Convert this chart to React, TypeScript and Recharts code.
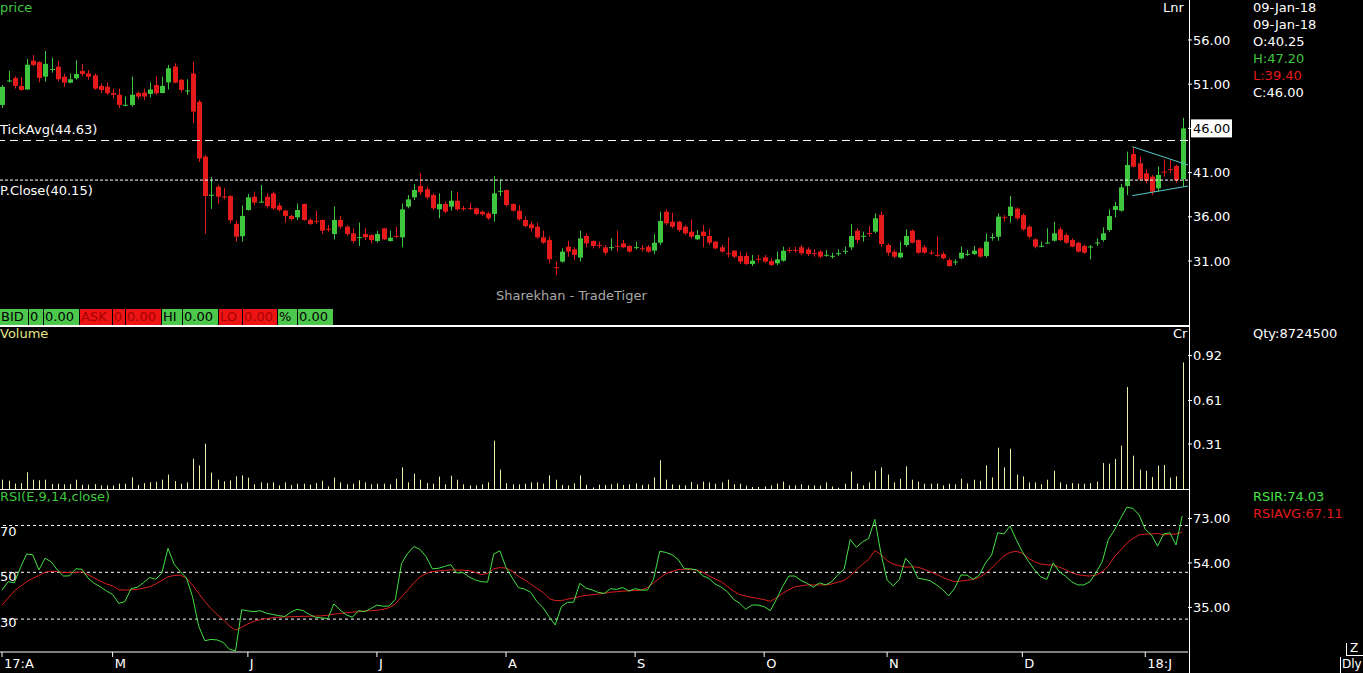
import React from "react";
import { ComposedChart, Bar, Line, XAxis, YAxis, ReferenceLine } from "recharts";

const FONT = "'DejaVu Sans', Verdana, sans-serif";
const UP = "#3fc63f";
const DOWN = "#e51a1a";
const RSI_GREEN = "#46e046";
const RSI_RED = "#d82020";
const VOL = "#eeeea4";

// daily candles, 03-Apr-17 .. 09-Jan-18
const opens = [
  48.65, 51.38, 51.7, 50.8, 50.4, 53.66, 53.5, 51.85, 52.68, 52.98,
  51.85, 51.17, 51.67, 52.5, 52.2, 52.0, 50.8, 50.72, 50.0, 49.8,
  48.63, 48.65, 50.0, 50.05, 49.9, 50.9, 50.0, 51.2, 53.0, 51.5,
  50.25, 52.2, 49.0, 42.8, 38.45, 39.4, 38.29, 38.35, 35.2, 33.8,
  36.77, 38.27, 37.68, 38.27, 38.65, 37.27, 36.7, 36.1, 35.94, 37.45,
  35.64, 35.54, 35.64, 34.64, 34.05, 35.64, 34.88, 34.13, 33.66, 34.05,
  33.94, 33.26, 34.7, 33.26, 33.85, 33.68, 37.15, 38.2, 39.48, 39.11,
  38.47, 36.84, 37.45, 37.15, 37.82, 36.98, 36.98, 36.96, 36.58, 36.39,
  36.32, 38.9, 39.03, 37.45, 36.69, 35.64, 35.15, 34.88, 33.68, 33.37,
  30.3, 30.93, 32.62, 32.32, 31.38, 33.83, 33.26, 32.83, 32.55, 32.53,
  32.72, 32.99, 32.7, 32.53, 32.45, 32.62, 32.17, 33.07, 36.58, 35.45,
  35.45, 34.88, 34.32, 33.45, 34.32, 33.83, 33.19, 32.55, 31.89, 32.17,
  31.57, 31.57, 30.66, 31.25, 31.42, 31.0, 30.74, 31.04, 32.26, 32.26,
  32.55, 32.32, 31.89, 32.06, 31.66, 31.55, 31.85, 32.11, 32.55, 34.43,
  33.81, 34.15, 34.32, 36.2, 32.81, 32.05, 31.41, 32.81, 34.43, 33.37,
  32.55, 31.96, 31.7, 31.79, 31.11, 30.9, 31.3, 31.77, 31.79, 32.43,
  31.56, 33.66, 33.75, 35.96, 36.09, 36.92, 36.2, 34.88, 33.45, 32.68,
  33.05, 33.3, 34.58, 33.94, 33.37, 33.07, 32.7, 32.6, 33.05, 33.37,
  34.51, 36.77, 36.69, 39.48, 43.1, 42.05, 40.92, 40.54, 39.22, 41.12,
  41.39, 41.75, 40.25,
];
const highs = [
  50.9, 52.5, 51.9, 51.8, 53.85, 54.3, 53.6, 54.75, 54.0, 53.6,
  52.2, 52.2, 53.7, 53.3, 52.6, 52.2, 51.1, 51.2, 50.5, 50.5,
  49.6, 51.85, 50.15, 50.5, 51.2, 51.9, 51.85, 53.17, 53.36, 51.6,
  51.55, 53.55, 49.2, 43.0, 40.5, 39.6, 39.25, 38.45, 35.6, 37.3,
  38.6, 38.85, 39.6, 38.65, 38.85, 37.56, 36.8, 36.2, 37.5, 37.5,
  35.83, 36.69, 35.7, 35.07, 37.15, 36.09, 35.07, 34.7, 35.34, 34.7,
  34.0, 34.43, 34.75, 34.43, 34.88, 37.52, 38.47, 39.71, 40.92, 39.41,
  38.65, 38.65, 37.71, 38.92, 38.84, 37.22, 37.6, 37.05, 36.69, 36.58,
  40.62, 40.24, 39.1, 37.5, 37.33, 36.02, 35.45, 35.34, 34.43, 33.75,
  30.93, 32.43, 33.3, 32.55, 34.43, 34.13, 33.3, 33.19, 32.81, 33.56,
  34.43, 33.37, 32.8, 33.19, 32.81, 32.81, 34.05, 36.58, 36.84, 36.47,
  35.5, 35.07, 35.71, 34.51, 35.07, 34.58, 33.25, 32.81, 33.68, 32.2,
  32.06, 31.94, 31.68, 31.68, 31.68, 31.3, 32.06, 32.62, 32.55, 32.62,
  32.81, 32.55, 32.32, 32.24, 32.24, 31.94, 32.32, 32.62, 35.19, 34.7,
  34.32, 34.96, 36.39, 36.58, 33.0, 32.32, 33.19, 34.58, 34.58, 33.45,
  32.81, 32.24, 33.75, 32.06, 31.3, 31.19, 32.62, 32.24, 32.7, 32.55,
  34.13, 34.13, 36.39, 36.2, 38.35, 37.07, 36.39, 35.07, 33.56, 33.19,
  34.7, 35.45, 34.81, 34.13, 33.56, 33.19, 32.85, 32.81, 33.56, 34.81,
  36.84, 37.71, 39.71, 43.37, 43.86, 42.8, 41.37, 40.73, 41.67, 42.5,
  42.43, 41.9, 47.2,
];
const lows = [
  48.3, 51.2, 50.5, 50.25, 50.35, 53.0, 51.2, 51.3, 52.3, 51.3,
  50.7, 51.1, 51.5, 51.9, 51.5, 50.35, 50.0, 49.8, 49.4, 48.3,
  48.5, 48.45, 49.3, 49.2, 49.5, 49.8, 49.97, 50.4, 51.1, 50.05,
  49.8, 46.6, 42.2, 34.1, 36.9, 37.5, 37.97, 35.26, 33.2, 33.2,
  36.7, 37.3, 37.6, 36.95, 36.77, 36.6, 35.33, 35.56, 35.64, 35.56,
  35.07, 35.19, 34.05, 34.32, 33.45, 34.62, 33.83, 33.0, 32.7, 33.37,
  33.0, 33.1, 33.37, 33.19, 33.56, 32.55, 36.96, 37.9, 38.47, 37.97,
  36.77, 35.83, 36.39, 36.69, 36.69, 36.69, 36.77, 36.2, 36.13, 35.64,
  35.45, 38.35, 37.15, 36.58, 35.56, 34.81, 34.32, 33.49, 32.92, 30.74,
  29.42, 30.81, 31.49, 31.11, 30.93, 32.55, 32.43, 32.43, 31.68, 32.17,
  32.06, 32.43, 31.94, 32.32, 32.06, 31.94, 31.79, 32.81, 35.07, 34.7,
  34.32, 33.94, 33.56, 33.37, 32.55, 32.81, 32.32, 31.94, 31.42, 31.3,
  30.66, 30.55, 30.43, 30.81, 30.81, 30.43, 30.55, 30.93, 31.94, 31.94,
  31.68, 31.57, 31.49, 31.3, 31.49, 31.3, 31.57, 31.79, 32.24, 33.0,
  33.19, 33.75, 34.13, 32.62, 31.6, 31.3, 31.3, 32.62, 33.0, 31.79,
  31.79, 31.68, 31.49, 31.19, 30.36, 30.55, 31.19, 31.57, 31.68, 31.38,
  31.41, 33.3, 33.3, 35.45, 35.34, 35.64, 34.43, 33.56, 32.43, 32.55,
  32.92, 33.19, 33.26, 32.92, 32.55, 31.94, 31.79, 31.19, 32.7, 33.19,
  34.32, 35.94, 36.58, 38.47, 41.6, 40.09, 39.79, 38.47, 38.84, 40.54,
  40.92, 39.86, 39.4,
];
const closes = [
  50.7, 51.42, 50.8, 50.35, 53.2, 53.17, 51.7, 53.3, 52.72, 51.55,
  51.17, 51.55, 52.15, 52.15, 51.85, 50.5, 50.35, 49.97, 49.8, 48.65,
  48.67, 49.8, 49.6, 49.6, 50.4, 49.97, 50.8, 52.8, 51.17, 50.35,
  50.29, 47.9, 42.6, 38.35, 38.49, 38.27, 38.25, 35.6, 33.75, 36.1,
  38.2, 37.6, 37.72, 37.2, 36.95, 36.77, 36.1, 35.75, 36.77, 35.64,
  35.19, 35.5, 34.43, 34.6, 35.64, 34.88, 34.05, 33.26, 33.7, 33.68,
  33.37, 34.05, 33.45, 33.64, 33.81, 36.84, 37.97, 39.03, 38.77, 38.2,
  36.96, 37.45, 36.58, 37.82, 36.84, 36.94, 36.94, 36.32, 36.28, 35.83,
  38.65, 38.94, 37.33, 36.69, 35.71, 34.96, 34.7, 33.68, 33.07, 31.19,
  30.26, 32.06, 32.06, 31.68, 33.56, 32.99, 32.7, 32.79, 31.94, 32.57,
  32.68, 32.55, 32.06, 32.57, 32.41, 32.06, 33.07, 35.52, 35.26, 34.88,
  34.51, 34.13, 33.75, 33.94, 33.83, 33.07, 32.43, 32.06, 31.85, 31.49,
  30.93, 30.66, 31.04, 31.21, 30.93, 30.55, 31.19, 32.17, 32.22, 32.22,
  31.87, 31.79, 31.85, 31.49, 31.7, 31.59, 31.89, 32.15, 33.83, 33.38,
  33.85, 34.11, 35.83, 32.92, 31.94, 31.49, 31.94, 33.83, 33.07, 31.94,
  31.94, 31.92, 31.66, 31.3, 30.43, 30.94, 31.94, 31.81, 32.17, 31.49,
  33.19, 33.7, 36.02, 35.92, 37.15, 35.83, 34.58, 33.75, 32.62, 32.72,
  33.09, 34.13, 33.37, 33.07, 32.62, 32.06, 31.94, 32.64, 33.09, 34.13,
  36.09, 37.22, 39.33, 41.86, 41.67, 40.24, 40.09, 38.84, 40.73, 41.08,
  41.35, 40.15, 46.0,
];

// volume in crore shares
const volumes = [
  0.064, 0.057, 0.037, 0.041, 0.115, 0.064, 0.06, 0.064, 0.034, 0.037,
  0.032, 0.034, 0.064, 0.03, 0.03, 0.034, 0.025, 0.025, 0.025, 0.037,
  0.037, 0.08, 0.028, 0.041, 0.046, 0.05, 0.064, 0.099, 0.055, 0.037,
  0.046, 0.209, 0.163, 0.313, 0.113, 0.064, 0.053, 0.06, 0.087, 0.094,
  0.078, 0.032, 0.046, 0.041, 0.046, 0.025, 0.046, 0.028, 0.037, 0.037,
  0.03, 0.041, 0.057, 0.018, 0.078, 0.046, 0.032, 0.037, 0.06, 0.046,
  0.032, 0.037, 0.037, 0.032, 0.071, 0.149, 0.046, 0.106, 0.064, 0.041,
  0.037, 0.085, 0.032, 0.092, 0.064, 0.032, 0.025, 0.025, 0.032, 0.046,
  0.333, 0.133, 0.041, 0.032, 0.032, 0.037, 0.046, 0.046, 0.037, 0.094,
  0.064, 0.028, 0.025, 0.039, 0.094, 0.03, 0.011, 0.03, 0.028, 0.032,
  0.039, 0.028, 0.032, 0.039, 0.028, 0.032, 0.08, 0.198, 0.064, 0.032,
  0.028, 0.025, 0.048, 0.032, 0.051, 0.046, 0.037, 0.046, 0.064, 0.032,
  0.037, 0.023, 0.014, 0.014, 0.018, 0.025, 0.037, 0.051, 0.025, 0.025,
  0.032, 0.025, 0.025, 0.023, 0.046, 0.018, 0.009, 0.037, 0.12, 0.037,
  0.025, 0.046, 0.126, 0.149, 0.099, 0.046, 0.071, 0.156, 0.064, 0.051,
  0.037, 0.037, 0.037, 0.025, 0.037, 0.032, 0.071, 0.039, 0.064, 0.057,
  0.163, 0.08, 0.285, 0.149, 0.278, 0.099, 0.087, 0.046, 0.046, 0.032,
  0.064, 0.126, 0.046, 0.032, 0.041, 0.037, 0.037, 0.041, 0.051, 0.179,
  0.175, 0.207, 0.299, 0.703, 0.23, 0.133, 0.126, 0.083, 0.161, 0.166,
  0.078, 0.087, 0.8725,
];

const rsi = [
  42.4, 46, 45.5, 52, 57.8, 57.5, 51, 56, 54.5, 51,
  48.4, 48.5, 51.5, 51.3, 47.5, 45.3, 43.8, 42, 40.5, 36.7,
  37.5, 43, 43.6, 45.5, 47.8, 47, 49.6, 60.2, 53.5, 50.3,
  47.6, 39.6, 27, 20.8, 21.3, 21.1, 20, 17.1, 16.5, 34,
  33.5, 33.2, 33.6, 32.5, 32, 31.5, 31.1, 33, 34.2, 33.6,
  32, 30.8, 30.5, 30.2, 36.5, 33.9, 31.8, 30.8, 33.6, 33.2,
  34.5, 36, 35.5, 35.6, 38.5, 53.8, 58.1, 61, 59.8, 56.7,
  51.5, 51.7, 52.5, 53.3, 49.7, 49.9, 48, 46.7, 46, 45.8,
  57.8, 59.2, 52, 47.7, 43.5, 42.8, 41.5, 37.6, 35, 31,
  27.5, 35.3, 37.2, 37.2, 45.3, 43.2, 42.5, 41.4, 41, 43,
  42.7, 43.5, 42, 43, 42.4, 42.4, 47, 59, 58.5, 57.5,
  55.5, 51.5, 51.5, 51, 48.5, 47.4, 45, 43.7, 41.7, 38.5,
  36.8, 34.2, 36, 36, 35.3, 33.6, 38.5, 44, 48.4, 48.4,
  46.5, 45.3, 43.6, 45.5, 44.6, 46, 49, 51.3, 64, 60.7,
  63, 64.5, 72.6, 58, 46.7, 44.2, 47, 56, 53, 47.5,
  47, 46.4, 44.7, 42.7, 39.9, 43.2, 48.8, 48.8, 47, 48.8,
  54, 57.4, 66.9, 66.4, 69.8, 64, 58.8, 54.6, 51, 48,
  47, 54, 50.3, 48.4, 46, 44.6, 44.6, 46, 49.9, 54.6,
  64.1, 68.1, 73.1, 77.8, 77.3, 74.5, 68.4, 66, 61.2, 66.4,
  66.9, 61.7, 74.03,
];
const rsiAvg = [
  36, 39, 42, 44, 46, 47.4, 48.6, 50, 50.5, 50.3,
  49.9, 49.9, 49.9, 50.2, 49, 47.6, 46.2, 45, 44.2, 42.6,
  42.4, 42.5, 42.7, 43.2, 43.8, 45, 46.5, 48.1, 48.6, 48.8,
  47.5, 44.5, 41, 37.5, 34.5, 32, 29.8, 27, 25.3, 26.5,
  28, 29, 29.8, 30.2, 30.6, 30.8, 30.9, 31, 31.1, 31.2,
  31.2, 31.3, 31.4, 31.7, 32.1, 32.4, 32.7, 33, 33.2, 33.4,
  33.6, 33.8, 34.2, 34.9, 36.5, 39.5, 42.4, 45.5, 48, 49.5,
  50.3, 50.6, 50.8, 51, 51, 50.9, 50.7, 50, 49, 49.5,
  51.5, 52, 51.8, 50.5, 48.3, 46.8, 45, 43.2, 41.5, 38.8,
  37.9, 37.9, 38.5, 39, 39.7, 40.1, 40.4, 40.7, 41, 41.5,
  41.7, 41.9, 42.1, 42.2, 42.4, 43.5, 45.5, 47.5, 49.5, 50.3,
  51.2, 51.3, 51.2, 51, 50, 48.5, 47.2, 46, 44, 42,
  40.5, 39.8, 39.3, 38.8, 38.3, 37.6, 39, 41, 42.5, 43.8,
  44.2, 44.6, 44.6, 44.6, 44.6, 45, 45.8, 46.5, 48.5, 51,
  53.5, 55.5, 59.3, 57.5, 55, 53.5, 52.8, 52.2, 52.3, 52.2,
  51.3, 50.3, 49.2, 47.9, 46.8, 46, 46.3, 46.6, 47, 47.8,
  49.5, 51.8, 54.5, 57, 58.5, 59, 58.1, 56, 54.5, 53.5,
  53.2, 53, 52.2, 51.2, 49.8, 49, 48.6, 48.4, 48.8, 50.2,
  52.8, 56.7, 59.5, 62.5, 64.5, 66, 66.3, 66.4, 66.6, 66,
  66.2, 66.4, 67.11,
];

const monthTicks = [0, 18, 40, 61, 82, 103, 124, 144, 166, 186];
const monthLabels = ["17:A", "M", "J", "J", "A", "S", "O", "N", "D", "18:J"];
const priceTicks = [31, 36, 41, 46, 51, 56];
const volumeTicks = [0.31, 0.61, 0.92];
const rsiTicks = [35, 54, 73];
const rsiLevels = [30, 50, 70];
const tickAvg = 44.63;
const prevClose = 40.15;
const trendUpper = [{ x: 183.9, y: 43.93 }, { x: 192.95, y: 41.86 }];
const trendLower = [{ x: 183.9, y: 38.39 }, { x: 192.95, y: 39.48 }];

const rows = opens.map((open, i) => ({
  i,
  open,
  high: highs[i],
  low: lows[i],
  close: closes[i],
  range: [lows[i], highs[i]],
  vol: volumes[i],
  rsi: rsi[i],
  avg: rsiAvg[i],
}));
const lastClose = closes[closes.length - 1];

const CHART_W = 1363;
const PLOT_W = 1188;
const AXIS_W = CHART_W - PLOT_W;
const xDomain: [number, number] = [-0.325, 192.95];
const MARGIN = { top: 0, right: 0, bottom: 0, left: 0 };

const Candle = (props: any) => {
  const { x, y, width, height, payload } = props;
  if (!payload) return null;
  const { open, close, high, low } = payload;
  const top = Math.min(y, y + height);
  const h = Math.abs(height);
  const k = high > low ? h / (high - low) : 0;
  const yO = top + (high - open) * k;
  const yC = top + (high - close) * k;
  const color = close >= open ? UP : DOWN;
  const cx = Math.round(x + width / 2) + 0.5;
  const bTop = Math.min(yO, yC);
  const bH = Math.max(1, Math.abs(yO - yC));
  return (
    <g>
      <line x1={cx} x2={cx} y1={top} y2={top + h} stroke={color} strokeWidth={1} />
      <rect x={cx - 2.5} y={bTop} width={5} height={bH} fill={color} />
    </g>
  );
};

const VolStick = (props: any) => {
  const { x, y, width, height } = props;
  if (!height) return null;
  return <rect x={Math.round(x + width / 2)} y={y} width={1} height={height} fill={VOL} />;
};

const PriceTick = (props: any) => {
  const { x, y, payload } = props;
  const v = payload.value;
  if (v === lastClose) {
    return (
      <g>
        <rect x={x - 2} y={y - 9} width={41} height={18} fill="#ffffff" />
        <text x={x} y={y} dy="0.36em" fill="#000" fontSize={13} fontFamily={FONT}>
          {v.toFixed(2)}
        </text>
      </g>
    );
  }
  return (
    <text x={x} y={y} dy="0.36em" fill="#fff" fontSize={13} fontFamily={FONT}>
      {v.toFixed(2)}
    </text>
  );
};

const PlainTick = (props: any) => (
  <text x={props.x} y={props.y} dy="0.36em" fill="#fff" fontSize={13} fontFamily={FONT}>
    {Number(props.payload.value).toFixed(2)}
  </text>
);

const MonthTick = (props: any) => (
  <text x={props.x + 2} y={props.y} dy={11} fill="#fff" fontSize={13} fontFamily={FONT}>
    {monthLabels[monthTicks.indexOf(props.payload.value)]}
  </text>
);

const T = (s: React.CSSProperties): React.CSSProperties => ({
  position: "absolute",
  fontFamily: FONT,
  fontSize: 13,
  lineHeight: "16px",
  whiteSpace: "nowrap",
  color: "#fff",
  ...s,
});

const G_BG = "#4cc84c";
const R_BG = "#ec1414";
const strip = [
  { x: 0, w: 28, t: "BID", bg: G_BG, fg: "#000" },
  { x: 29, w: 14, t: "0", bg: G_BG, fg: "#000" },
  { x: 44, w: 35, t: "0.00", bg: G_BG, fg: "#000" },
  { x: 80, w: 32, t: "ASK", bg: R_BG, fg: "#a80000" },
  { x: 113, w: 12, t: "0", bg: R_BG, fg: "#a80000" },
  { x: 126, w: 35, t: "0.00", bg: R_BG, fg: "#a80000" },
  { x: 162, w: 20, t: "HI", bg: G_BG, fg: "#000" },
  { x: 183, w: 35, t: "0.00", bg: G_BG, fg: "#000" },
  { x: 219, w: 23, t: "LO", bg: R_BG, fg: "#a80000" },
  { x: 243, w: 34, t: "0.00", bg: R_BG, fg: "#a80000" },
  { x: 278, w: 19, t: "%", bg: G_BG, fg: "#000" },
  { x: 298, w: 35, t: "0.00", bg: G_BG, fg: "#000" },
];

export default function App() {
  return (
    <div style={{ position: "absolute", left: 0, top: 0, width: 1363, height: 673, background: "#000", overflow: "hidden" }}>
      {/* price panel */}
      <div style={{ position: "absolute", left: 0, top: 0 }}>
        <ComposedChart width={CHART_W} height={326} data={rows} margin={MARGIN}>
          <XAxis hide type="number" dataKey="i" domain={xDomain} allowDataOverflow />
          <YAxis
            orientation="right"
            width={AXIS_W}
            type="number"
            domain={[23.65, 60.52]}
            allowDataOverflow
            ticks={priceTicks}
            interval={0}
            axisLine={false}
            tickLine={{ stroke: "#fff" }}
            tickSize={4}
            tickMargin={1}
            tick={<PriceTick />}
          />
          <ReferenceLine y={tickAvg} stroke="#fff" strokeDasharray="8 5" />
          <ReferenceLine y={prevClose} stroke="#fff" strokeDasharray="3 2" />
          <Bar dataKey="range" barSize={5} shape={<Candle />} isAnimationActive={false} />
          <ReferenceLine segment={trendUpper} stroke="#55cccc" ifOverflow="visible" />
          <ReferenceLine segment={trendLower} stroke="#55cccc" ifOverflow="visible" />
        </ComposedChart>
      </div>

      {/* volume panel */}
      <div style={{ position: "absolute", left: 0, top: 327 }}>
        <ComposedChart width={CHART_W} height={162} data={rows} margin={MARGIN}>
          <XAxis hide type="number" dataKey="i" domain={xDomain} allowDataOverflow />
          <YAxis
            orientation="right"
            width={AXIS_W}
            type="number"
            domain={[0, 1.117]}
            allowDataOverflow
            ticks={volumeTicks}
            interval={0}
            axisLine={false}
            tickLine={{ stroke: "#fff" }}
            tickSize={4}
            tickMargin={1}
            tick={<PlainTick />}
          />
          <Bar dataKey="vol" barSize={1} shape={<VolStick />} isAnimationActive={false} />
        </ComposedChart>
      </div>

      {/* RSI panel */}
      <div style={{ position: "absolute", left: 0, top: 490 }}>
        <ComposedChart width={CHART_W} height={183} data={rows} margin={MARGIN}>
          <XAxis
            type="number"
            dataKey="i"
            domain={xDomain}
            allowDataOverflow
            ticks={monthTicks}
            interval={0}
            height={21}
            axisLine={{ stroke: "#fff" }}
            tickLine={{ stroke: "#fff" }}
            tickSize={5}
            tickMargin={0}
            tick={<MonthTick />}
          />
          <YAxis
            orientation="right"
            width={AXIS_W}
            type="number"
            domain={[15.94, 85.17]}
            allowDataOverflow
            ticks={rsiTicks}
            interval={0}
            axisLine={false}
            tickLine={{ stroke: "#fff" }}
            tickSize={4}
            tickMargin={1}
            tick={<PlainTick />}
          />
          {rsiLevels.map((v) => (
            <ReferenceLine key={v} y={v} stroke="#fff" strokeDasharray="3 3" />
          ))}
          <Line dataKey="avg" stroke={RSI_RED} strokeWidth={1} dot={false} isAnimationActive={false} />
          <Line dataKey="rsi" stroke={RSI_GREEN} strokeWidth={1} dot={false} isAnimationActive={false} />
        </ComposedChart>
      </div>

      {/* panel frame */}
      <div style={{ position: "absolute", left: 0, top: 325, width: 1190, height: 2, background: "#fff" }} />
      <div style={{ position: "absolute", left: 0, top: 489, width: 1190, height: 1, background: "#fff" }} />
      <div style={{ position: "absolute", left: 1189, top: 0, width: 1, height: 673, background: "#fff" }} />

      {/* price panel texts */}
      <div style={T({ left: 0, top: 0, color: UP })}>price</div>
      <div style={T({ left: 1163, top: 0 })}>Lnr</div>
      <div style={T({ left: 0, top: 122 })}>TickAvg(44.63)</div>
      <div style={T({ left: 0, top: 183 })}>P.Close(40.15)</div>
      <div style={T({ left: 496, top: 288, color: "#a8a8a8" })}>Sharekhan - TradeTiger</div>
      {strip.map((c) => (
        <div
          key={c.x}
          style={T({ left: c.x, top: 309, width: c.w, height: 16, background: c.bg, color: c.fg, paddingLeft: 1, boxSizing: "border-box" })}
        >
          {c.t}
        </div>
      ))}

      <div style={T({ left: 1253, top: 0 })}>09-Jan-18</div>
      <div style={T({ left: 1253, top: 17 })}>09-Jan-18</div>
      <div style={T({ left: 1253, top: 34 })}>O:40.25</div>
      <div style={T({ left: 1253, top: 51, color: UP })}>H:47.20</div>
      <div style={T({ left: 1253, top: 68, color: DOWN })}>L:39.40</div>
      <div style={T({ left: 1253, top: 85 })}>C:46.00</div>

      {/* volume texts */}
      <div style={T({ left: 0, top: 326, color: "#e6e68c" })}>Volume</div>
      <div style={T({ left: 1173, top: 326 })}>Cr</div>
      <div style={T({ left: 1253, top: 326 })}>Qty:8724500</div>

      {/* RSI texts */}
      <div style={T({ left: 0, top: 489, color: UP })}>RSI(E,9,14,close)</div>
      <div style={T({ left: 1253, top: 489, color: RSI_GREEN })}>RSIR:74.03</div>
      <div style={T({ left: 1253, top: 506, color: DOWN })}>RSIAVG:67.11</div>
      <div style={T({ left: 0, top: 524 })}>70</div>
      <div style={T({ left: 0, top: 569 })}>50</div>
      <div style={T({ left: 0, top: 615 })}>30</div>

      {/* interval box */}
      <div style={{ position: "absolute", left: 1346, top: 643, width: 1, height: 13, background: "#fff" }} />
      <div style={{ position: "absolute", left: 1346, top: 655, width: 17, height: 1, background: "#fff" }} />
      <div style={T({ left: 1350, top: 640, fontSize: 12 })}>Z</div>
      <div style={{ position: "absolute", left: 1340, top: 657, width: 1, height: 16, background: "#fff" }} />
      <div style={T({ left: 1342, top: 656, fontSize: 12 })}>Dly</div>
    </div>
  );
}
